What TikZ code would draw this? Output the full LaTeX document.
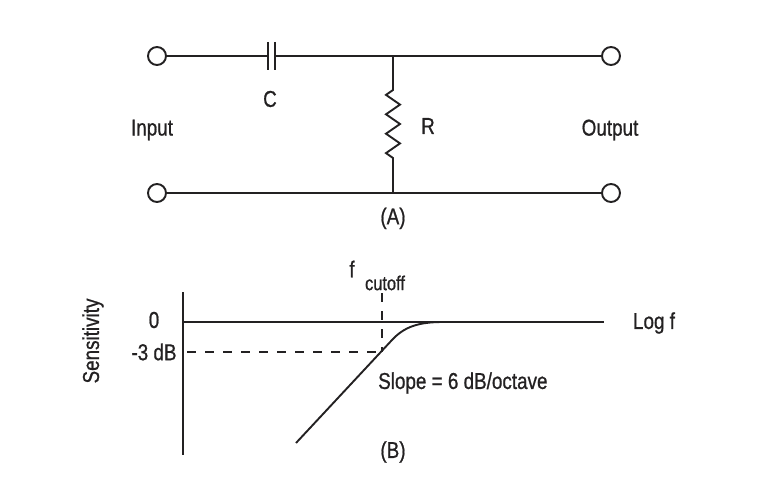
\documentclass[tikz,border=0pt]{standalone}
\usepackage{fontspec}
\setmainfont[FakeStretch=0.82,FakeBold=0.8]{Liberation Sans}
\usepackage{tikz}
\usetikzlibrary{positioning}
\definecolor{ink-grey}{RGB}{35,33,34}
\tikzset{
  wire/.style={ink-grey, line width=1.9pt},
  dashwire/.style={ink-grey, line width=1.9pt, dash pattern=on 9pt off 9pt},
  terminal/.style={circle, draw=ink-grey, line width=1.9pt, fill=white,
    inner sep=0pt, minimum size=18pt},
  figtext/.style={text=ink-grey, inner sep=0pt, font=\fontsize{23}{26}\selectfont},
}

\begin{document}
\begin{tikzpicture}[x=1pt,y=-1pt]
    \useasboundingbox (0,0) rectangle (760,500);

    % (A) the RC network
    \node[terminal] (in-top) at (157,56) {};
    \node[terminal] (in-bot) at (157,193) {};
    \node[terminal] (out-top) at (611,56) {};
    \node[terminal] (out-bot) at (611,193) {};

	\coordinate (cap-left) at (268,56);
	\coordinate (cap-right) at (275,56);
    \coordinate (top-jn) at (393,56);
    \coordinate (bot-jn) at (393,193);
    \coordinate (res-top) at (393,90);
    \coordinate (res-bot) at (393,158);

    \draw [wire] (in-top) -- (cap-left);
    \draw [wire] (cap-right) -- (top-jn) -- (out-top);
    \draw [wire] (in-bot) -- (bot-jn) -- (out-bot);
    \draw [wire] ([yshift=14pt]cap-left) -- ([yshift=-14pt]cap-left);
    \draw [wire] ([yshift=14pt]cap-right) -- ([yshift=-14pt]cap-right);
    \draw [wire] (top-jn) -- (res-top) -- ++(-7,4.9) -- ++(14,9.7) -- ++(-14,9.7)
        -- ++(14,9.7) -- ++(-14,9.7) -- ++(14,9.7) -- ++(-14,9.7) -- (res-bot) -- (bot-jn);

    \node[figtext] (cap-label) at (270,99) {C};
    \node[figtext] (res-label) at (428,126) {R};
    \node[figtext] (input) at (152,130) {Input};
    \node[figtext] (output) at (610,130) {Output};
    \node[figtext, below=14.5pt of bot-jn] (caption-a) {(A)};

    % (B) the response
    \coordinate (origin) at (183,322);
    \coordinate (y-top) at (183,292);
    \coordinate (y-bot) at (183,455);
    \coordinate (x-end) at (604,322);
    \coordinate (minus3) at (187,352);
    \coordinate (knee) at (382,352);
    \coordinate (fc-top) at (382,293);
    \coordinate (slope-start) at (296,443);
    \coordinate (slope-end) at (392,340);
    \coordinate (flat) at (443,322);

    \draw [wire] (y-top) -- (y-bot);
    \draw [wire] (origin) -- (x-end);
    \draw [dashwire] (minus3) -- (knee);
    \draw [dashwire] (fc-top) -- (knee);
    \draw [wire] (slope-start) -- (slope-end) .. controls (404,327) and (418,322) .. (flat);

    \node[figtext] (zero) at (154,320) {0};
    \node[figtext] (minus3-label) at (154,352) {-3 dB};
    \node[figtext] (log-f) at (654,323) {Log f};
    \node[figtext, rotate=90] (sensitivity) at (93,341) {Sensitivity};
    \node[figtext] (f-label) at (352,269) {f};
    \node[figtext, font=\fontsize{20}{22}\selectfont] (cutoff) at (385,283) {cutoff};
    \node[figtext, anchor=west] (slope) at (378,383) {Slope = 6 dB/octave};
    \node[figtext] (caption-b) at (393,452) {(B)};
\end{tikzpicture}
\end{document}
